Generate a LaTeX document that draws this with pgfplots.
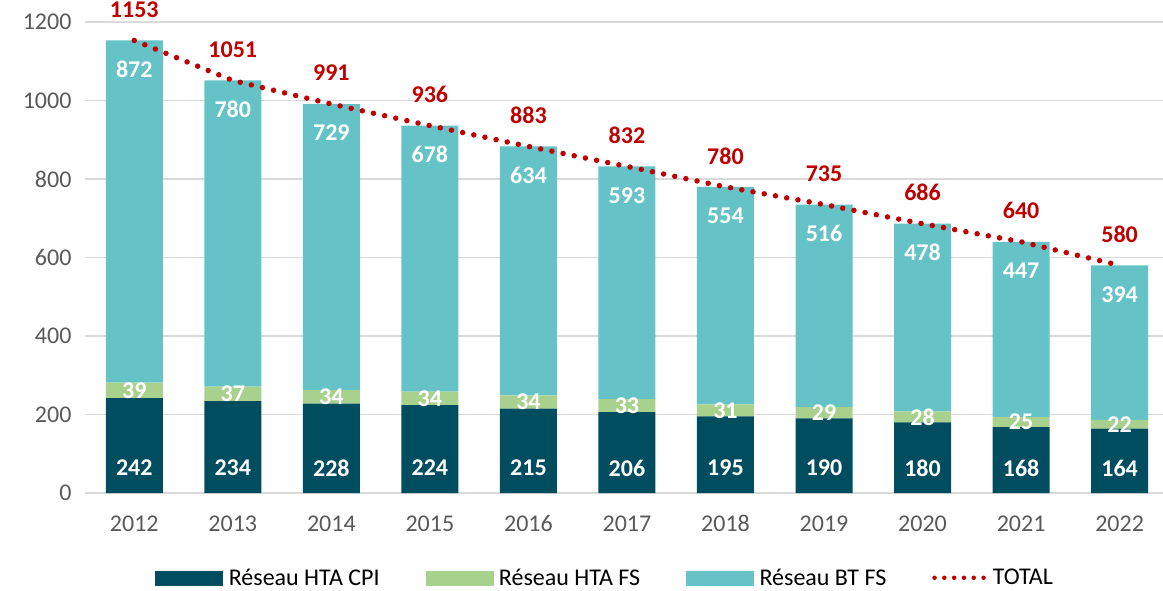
\documentclass[border=0pt]{standalone}
\usepackage{pgfplots}
\pgfplotsset{compat=1.18}
\usepackage{fontspec}
\setmainfont{Carlito}
\definecolor{cpi}{HTML}{004D60}
\definecolor{htafs}{HTML}{A9D18E}
\definecolor{btfs}{HTML}{65C3C8}
\definecolor{totred}{HTML}{C00000}
\definecolor{ticktext}{HTML}{595959}
\definecolor{gridc}{HTML}{D9D9D9}
\tikzset{barlab/.style={anchor=center, text=white, font=\fontsize{24}{28}\selectfont\bfseries}}
\begin{document}
\begin{tikzpicture}
\pgfplotsset{
  base/.style={
    at={(0pt,0pt)}, anchor=south west,
    scale only axis, width=1078pt, height=471pt,
    xmin=-0.5, xmax=10.44, ymin=0, ymax=1200,
    clip=false,
    /pgf/number format/assume math mode=true,
    /pgf/number format/1000 sep={},
  },
}
\begin{axis}[base,
  ybar stacked, bar width=57pt,
  axis line style={draw=none},
  tick style={draw=none},
  ymajorgrids, grid style={draw=gridc, line width=1.2pt},
  xtick={0,...,10}, xticklabels={2012,2013,2014,2015,2016,2017,2018,2019,2020,2021,2022},
  ytick={0,200,...,1200},
  tick label style={text=ticktext, font=\fontsize{24}{28}\selectfont},
  yticklabel style={xshift=-10pt},
  xticklabel style={yshift=-19pt},
]
\addplot[fill=cpi, draw=none, point meta=rawy, nodes near coords,
  visualization depends on={rawy \as \rawy},
  every node near coord/.append style={barlab, yshift={25pt-0.5*\rawy*0.3925pt}}]
  coordinates {(0,242) (1,234) (2,228) (3,224) (4,215) (5,206) (6,195) (7,190) (8,180) (9,168) (10,164)};
\addplot[fill=htafs, draw=none, point meta=rawy, nodes near coords,
  every node near coord/.append style={barlab}]
  coordinates {(0,39) (1,37) (2,34) (3,34) (4,34) (5,33) (6,31) (7,29) (8,28) (9,25) (10,22)};
\addplot[fill=btfs, draw=none, point meta=rawy, nodes near coords,
  visualization depends on={rawy \as \rawy},
  every node near coord/.append style={barlab, yshift={0.5*\rawy*0.3925pt-29pt}}]
  coordinates {(0,872) (1,780) (2,729) (3,678) (4,634) (5,593) (6,554) (7,516) (8,478) (9,447) (10,394)};
\end{axis}
\begin{axis}[base, hide axis,
  legend columns=4,
  legend style={draw=none, at={(0.4825,-0.18)}, anchor=center,
    font=\fontsize{24}{28}\selectfont, text=black,
    /tikz/every even column/.append style={column sep=44pt},
    /tikz/every odd column/.append style={column sep=4pt}},
  legend cell align=left,
]
\addlegendimage{legend image code/.code={\fill[cpi] (0pt,-7pt) rectangle (67pt,7pt);}}
\addlegendentry{Réseau HTA CPI}
\addlegendimage{legend image code/.code={\fill[htafs] (0pt,-7pt) rectangle (67pt,7pt);}}
\addlegendentry{Réseau HTA FS}
\addlegendimage{legend image code/.code={\fill[btfs] (0pt,-7pt) rectangle (67pt,7pt);}}
\addlegendentry{Réseau BT FS}
\addplot[color=totred, mark=none, line width=5.5pt, line cap=round, dash pattern=on 0pt off 11.4pt,
  legend image code/.code={\draw[totred, line width=4.5pt, line cap=round, dash pattern=on 0pt off 9.8pt] (0pt,0pt) -- (50pt,0pt);},
  point meta=y, nodes near coords,
  every node near coord/.append style={anchor=center, yshift=31pt, text=totred, font=\fontsize{24}{28}\selectfont\bfseries}]
  coordinates {(0,1153) (1,1051) (2,991) (3,936) (4,883) (5,832) (6,780) (7,735) (8,686) (9,640) (10,580)};
\addlegendentry{TOTAL}
\end{axis}
\pgfresetboundingbox
\path (-85pt,-97pt) rectangle (1078pt,493pt);
\end{tikzpicture}
\end{document}
